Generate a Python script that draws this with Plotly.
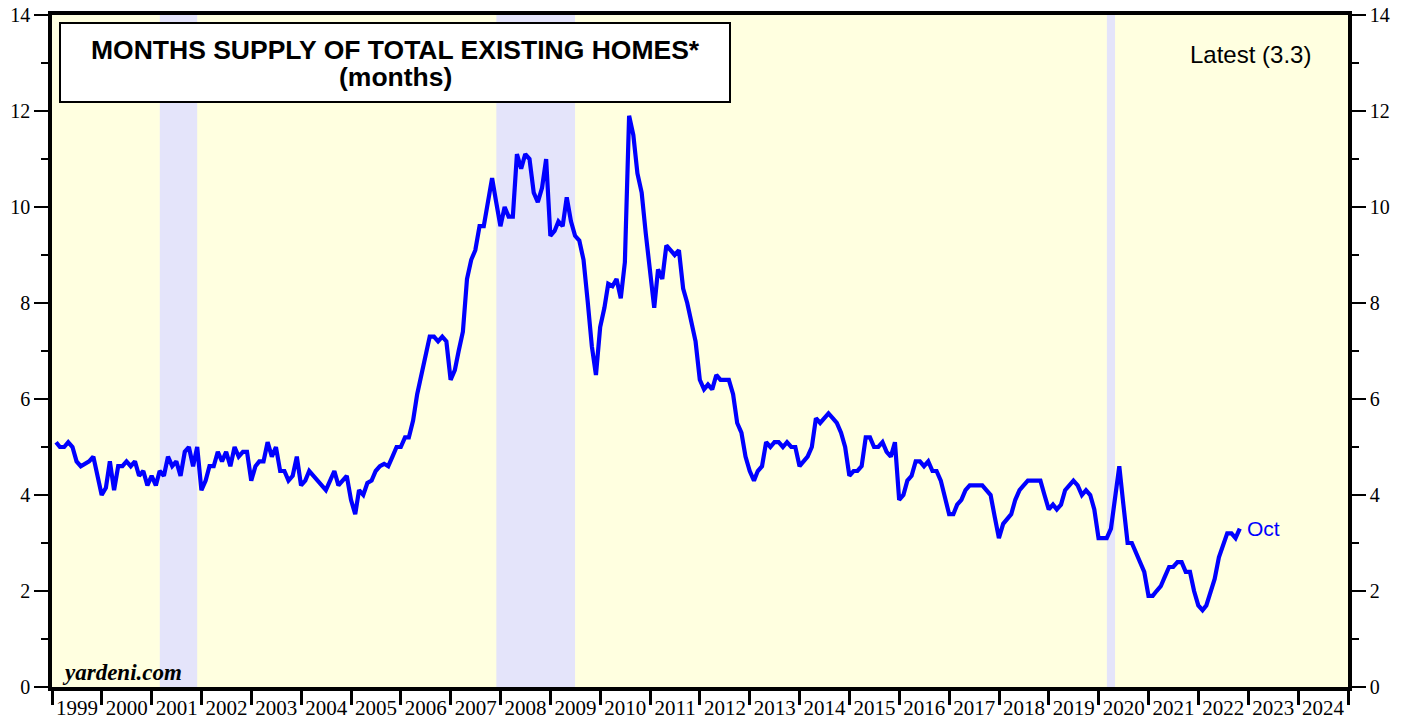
import pandas as pd
import plotly.graph_objects as go

# ---------------- data (months supply, monthly, Jan 1999 - Oct 2022) ----------------
y1999 = [5.1, 5.0, 5.0, 5.1, 5.0, 4.7, 4.6, 4.65, 4.7, 4.8, 4.45, 4.0]
y2000 = [4.15, 4.7, 4.1, 4.6, 4.6, 4.7, 4.6, 4.7, 4.4, 4.5, 4.2, 4.4]
y2001 = [4.2, 4.5, 4.4, 4.8, 4.6, 4.7, 4.4, 4.9, 5.0, 4.6, 5.0, 4.1]
y2002 = [4.3, 4.6, 4.6, 4.9, 4.7, 4.9, 4.6, 5.0, 4.8, 4.9, 4.9, 4.3]
y2003 = [4.6, 4.7, 4.7, 5.1, 4.8, 5.0, 4.5, 4.5, 4.3, 4.4, 4.8, 4.2]
y2004 = [4.3, 4.5, 4.4, 4.3, 4.2, 4.1, 4.3, 4.5, 4.2, 4.3, 4.4, 3.9]
y2005 = [3.6, 4.1, 4.0, 4.25, 4.3, 4.5, 4.6, 4.65, 4.6, 4.8, 5.0, 5.0]
y2006 = [5.2, 5.2, 5.55, 6.1, 6.5, 6.9, 7.3, 7.3, 7.2, 7.3, 7.2, 6.4]
y2007 = [6.6, 7.0, 7.4, 8.5, 8.9, 9.1, 9.6, 9.6, 10.15, 10.6, 10.1, 9.6]
y2008 = [10.0, 9.8, 9.8, 11.1, 10.8, 11.1, 11.0, 10.3, 10.1, 10.4, 11.0, 9.4]
y2009 = [9.5, 9.7, 9.6, 10.2, 9.7, 9.4, 9.3, 8.9, 8.05, 7.1, 6.5, 7.5]
y2010 = [7.9, 8.4, 8.35, 8.5, 8.1, 8.85, 11.9, 11.5, 10.7, 10.3, 9.45, 8.6]
y2011 = [7.9, 8.7, 8.5, 9.2, 9.1, 9.0, 9.1, 8.3, 8.0, 7.6, 7.2, 6.4]
y2012 = [6.2, 6.3, 6.2, 6.5, 6.4, 6.4, 6.4, 6.1, 5.5, 5.3, 4.8, 4.5]
y2013 = [4.3, 4.5, 4.6, 5.1, 5.0, 5.1, 5.1, 5.0, 5.1, 5.0, 5.0, 4.6]
y2014 = [4.7, 4.8, 5.0, 5.6, 5.5, 5.6, 5.7, 5.6, 5.5, 5.3, 5.0, 4.4]
y2015 = [4.5, 4.5, 4.6, 5.2, 5.2, 5.0, 5.0, 5.1, 4.9, 4.8, 5.1, 3.9]
y2016 = [4.0, 4.3, 4.4, 4.7, 4.7, 4.6, 4.7, 4.5, 4.5, 4.3, 3.95, 3.6]
y2017 = [3.6, 3.8, 3.9, 4.1, 4.2, 4.2, 4.2, 4.2, 4.1, 4.0, 3.55, 3.1]
y2018 = [3.4, 3.5, 3.6, 3.9, 4.1, 4.2, 4.3, 4.3, 4.3, 4.3, 4.0, 3.7]
y2019 = [3.8, 3.7, 3.8, 4.1, 4.2, 4.3, 4.2, 4.0, 4.1, 4.0, 3.7, 3.1]
y2020 = [3.1, 3.1, 3.3, 3.95, 4.6, 3.8, 3.0, 3.0, 2.8, 2.6, 2.4, 1.9]
y2021 = [1.9, 2.0, 2.1, 2.3, 2.5, 2.5, 2.6, 2.6, 2.4, 2.4, 2.0, 1.7]
y2022 = [1.6, 1.7, 1.95, 2.25, 2.7, 2.95, 3.2, 3.2, 3.1, 3.3]

supply = (y1999 + y2000 + y2001 + y2002 + y2003 + y2004 + y2005 + y2006 + y2007
          + y2008 + y2009 + y2010 + y2011 + y2012 + y2013 + y2014 + y2015 + y2016
          + y2017 + y2018 + y2019 + y2020 + y2021 + y2022)
dates = pd.date_range("1999-01-01", periods=len(supply), freq="MS") + pd.offsets.MonthEnd(1)

recession_starts = ["2001-03-01", "2007-12-01", "2020-03-01"]
recession_ends = ["2001-11-30", "2009-06-30", "2020-04-30"]

title_line1 = "MONTHS SUPPLY OF TOTAL EXISTING HOMES*"
title_line2 = "(months)"
latest_text = "Latest (3.3)"
last_label = "Oct"
source_text = "yardeni.com"

# ---------------- figure ----------------
W, H = 1407, 719
ML, MR, MT, MB = 52, 59, 15, 32
PW, PH = W - ML - MR, H - MT - MB


def px(xp):
    return (xp - ML) / PW


def py(yp):
    return (H - MB - yp) / PH


BLUE = "#0000FF"
SERIF = "Liberation Serif, Times New Roman, serif"
SANS = "Liberation Sans, Arial, sans-serif"

fig = go.Figure()
fig.add_trace(go.Scatter(x=dates, y=supply, mode="lines",
                         line=dict(color=BLUE, width=4.2), hoverinfo="x+y",
                         showlegend=False))
fig.add_trace(go.Scatter(x=[], y=[], yaxis="y2", showlegend=False))

shapes = []
for s, e in zip(recession_starts, recession_ends):
    shapes.append(dict(type="rect", xref="x", yref="paper", x0=s, x1=e, y0=0, y1=1,
                       fillcolor="#E4E4FA", line=dict(width=0), layer="below"))
shapes.append(dict(type="rect", xref="paper", yref="paper",
                   x0=px(60), x1=px(730), y0=py(102), y1=py(23),
                   fillcolor="white", line=dict(color="black", width=2), layer="above"))

annotations = [
    dict(text="<b>" + title_line1 + "</b>", xref="paper", yref="paper", x=px(395), y=py(50),
         xanchor="center", yanchor="middle", showarrow=False,
         font=dict(family=SANS, size=26.5, color="black")),
    dict(text="<b>" + title_line2 + "</b>", xref="paper", yref="paper", x=px(395), y=py(77),
         xanchor="center", yanchor="middle", showarrow=False,
         font=dict(family=SANS, size=26.5, color="black")),
    dict(text=latest_text, xref="paper", yref="paper", x=px(1250), y=py(54),
         xanchor="center", yanchor="middle", showarrow=False,
         font=dict(family=SANS, size=24, color="black")),
    dict(text=last_label, xref="x", yref="y", x=dates[-1], y=supply[-1], xshift=5,
         xanchor="left", yanchor="middle", showarrow=False,
         font=dict(family=SANS, size=21, color=BLUE)),
    dict(text="<b><i>" + source_text + "</i></b>", xref="paper", yref="paper", x=px(60), y=py(672),
         xanchor="left", yanchor="middle", showarrow=False,
         font=dict(family=SERIF, size=23, color="black")),
]

yaxis_common = dict(range=[0, 14], tick0=0, dtick=2, ticks="outside", ticklen=14, tickwidth=1.5,
                    tickcolor="black", showline=True, linewidth=3.5, linecolor="black",
                    showgrid=False, zeroline=False, fixedrange=True, automargin=False,
                    minor=dict(dtick=1, ticks="outside", ticklen=7, tickwidth=1.5,
                               tickcolor="black", showgrid=False),
                    tickfont=dict(family=SERIF, size=20, color="black"))

fig.update_layout(
    width=W, height=H,
    margin=dict(l=ML, r=MR, t=MT, b=MB, pad=0, autoexpand=False),
    paper_bgcolor="white", plot_bgcolor="#FFFFE0",
    showlegend=False,
    shapes=shapes,
    annotations=annotations,
    xaxis=dict(type="date", range=["1999-01-01", "2025-01-01"], tick0="1999-01-01",
               dtick="M12", tickformat="%Y", ticklabelmode="period",
               ticks="outside", ticklen=14, tickwidth=2.5, tickcolor="black",
               ticklabelstandoff=-15, automargin=False,
               showline=True, linewidth=3.5, linecolor="black", mirror=True,
               showgrid=False, zeroline=False, fixedrange=True,
               tickfont=dict(family=SERIF, size=21, color="black")),
    yaxis=dict(side="left", **yaxis_common),
    yaxis2=dict(side="right", overlaying="y", anchor="x", **yaxis_common),
)

fig.write_html("out.html", config={"displayModeBar": False},
               post_script="document.body.style.margin='0';")
